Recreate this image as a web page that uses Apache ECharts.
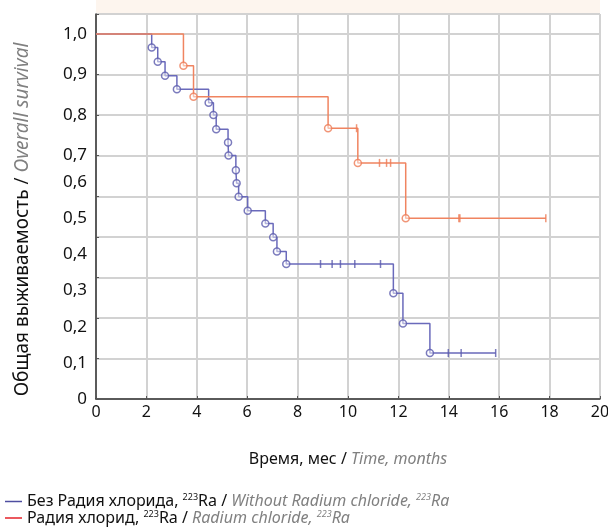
<!DOCTYPE html>
<html>
<head>
<meta charset="utf-8">
<script src="https://cdn.jsdelivr.net/npm/echarts@6/dist/echarts.min.js"></script>
<style>
  html, body { margin: 0; padding: 0; background: #fff; }
  #chart { width: 608px; height: 532px; }
</style>
</head>
<body>
<div id="chart"></div>
<script>
// Без Радия хлорида: моменты событий (мес) и выживаемость после них
var blueEventT = [2.21, 2.45, 2.74, 3.21, 4.47, 4.66, 4.77, 5.24, 5.26, 5.55, 5.58, 5.66, 6.02, 6.72, 7.03, 7.18, 7.55, 11.80, 12.18, 13.25];
var blueEventS = [0.963, 0.924, 0.886, 0.849, 0.812, 0.778, 0.739, 0.703, 0.667, 0.627, 0.591, 0.554, 0.516, 0.481, 0.443, 0.404, 0.370, 0.290, 0.207, 0.126];
var blueCensorT = [8.91, 9.37, 9.70, 10.27, 11.29, 13.98, 14.49, 15.86];
var blueCensorS = [0.370, 0.370, 0.370, 0.370, 0.370, 0.126, 0.126, 0.126];

// Радия хлорид
var redEventT = [3.47, 3.87, 9.21, 10.39, 12.29];
var redEventS = [0.913, 0.828, 0.742, 0.647, 0.495];
var redCensorT = [10.34, 11.25, 11.53, 11.69, 14.40, 14.44, 17.85];
var redCensorS = [0.742, 0.647, 0.647, 0.647, 0.495, 0.495, 0.495];

// подписи оси Y (стоят не строго по сетке, как на оригинале)
var yTickPos = [0, 0.099, 0.197, 0.299, 0.397, 0.496, 0.595, 0.667, 0.778, 0.889, 1.0];
var yTickLabels = ['0', '0,1', '0,2', '0,3', '0,4', '0,5', '0,6', '0,7', '0,8', '0,9', '1,0'];

var blueName = 'Без Радия хлорида, 223Ra / Without Radium chloride, 223Ra';
var redName = 'Радия хлорид, 223Ra / Radium chloride, 223Ra';
var legendRich = {};
legendRich[blueName] = '{a|Без Радия хлорида, }{s|223}{a|Ra / }{b|Without Radium chloride, }{t|223}{b|Ra}';
legendRich[redName] = '{a|Радия хлорид, }{s|223}{a|Ra / }{b|Radium chloride, }{t|223}{b|Ra}';

var FONT = 'Noto Sans';

function stepData(ts, ss, endT) {
  var out = [[0, 1]];
  for (var i = 0; i < ts.length; i++) out.push([ts[i], ss[i]]);
  out.push([endT, ss[ss.length - 1]]);
  return out;
}
function pairs(ts, ss) {
  return ts.map(function (t, i) { return [t, ss[i]]; });
}

var blueLine = '#6a6abb', blueMark = '#5a5aac';
var redLine = '#f08460', redMark = '#ee7a55';
var gridColor = '#d2d2d2';

var chart = echarts.init(document.getElementById('chart'));

var option = {
  backgroundColor: '#ffffff',
  animation: false,
  graphic: [{
    type: 'rect', left: 96, top: 0, z: -10,
    shape: { width: 504, height: 13 },
    style: { fill: '#fdf5ee' }
  }],
  grid: {
    left: 96, right: 8, top: 14, bottom: 133,
    outerBoundsMode: 'none',
    show: true, borderColor: '#777', borderWidth: 1, backgroundColor: 'transparent'
  },
  legend: {
    orient: 'vertical', left: 0, top: 488, itemGap: 0,
    icon: 'rect', itemWidth: 17, itemHeight: 1.5,
    selectedMode: false,
    data: [
      { name: blueName, itemStyle: { color: '#4e4ea0' } },
      { name: redName, itemStyle: { color: '#e5222a' } }
    ],
    formatter: function (n) { return legendRich[n]; },
    textStyle: {
      rich: {
        a: { fontFamily: FONT, fontSize: 16, color: '#111', lineHeight: 17 },
        b: { fontFamily: FONT, fontSize: 16, color: '#808080', fontStyle: 'italic', lineHeight: 17 },
        s: { fontFamily: FONT, fontSize: 9, color: '#111', lineHeight: 9, verticalAlign: 'top' },
        t: { fontFamily: FONT, fontSize: 9, color: '#808080', fontStyle: 'italic', lineHeight: 9, verticalAlign: 'top' }
      }
    }
  },
  xAxis: {
    type: 'value', min: 0, max: 20, interval: 2,
    name: '{a|Время, мес / }{b|Time, months}',
    nameLocation: 'middle', nameGap: 52,
    nameTextStyle: {
      rich: {
        a: { fontFamily: FONT, fontSize: 16, color: '#111' },
        b: { fontFamily: FONT, fontSize: 16, color: '#808080', fontStyle: 'italic' }
      }
    },
    axisLine: { lineStyle: { color: '#333', width: 1.5 } },
    axisTick: { inside: true, length: 3, lineStyle: { color: '#555' } },
    axisLabel: { fontFamily: FONT, fontSize: 16, color: '#111', margin: 5 },
    splitLine: { show: true, lineStyle: { color: gridColor, width: 2 } }
  },
  yAxis: {
    type: 'value', min: 0, max: 1.055, interval: 1 / 9,
    name: '{a|Общая выживаемость / }{b|Overall survival}',
    nameLocation: 'middle', nameGap: 64,
    nameTextStyle: {
      padding: [0, 26, 0, 0],
      rich: {
        a: { fontFamily: FONT, fontSize: 19, color: '#111' },
        b: { fontFamily: FONT, fontSize: 19, color: '#808080', fontStyle: 'italic' }
      }
    },
    axisLine: { show: true, lineStyle: { color: '#333', width: 1.5 } },
    axisTick: { show: true, inside: true, length: 3, lineStyle: { color: '#555' } },
    axisLabel: {
      fontFamily: FONT, fontSize: 17, color: '#111', margin: 9,
      customValues: yTickPos,
      formatter: function (v) {
        for (var i = 0; i < yTickPos.length; i++) {
          if (Math.abs(yTickPos[i] - v) < 1e-6) return yTickLabels[i];
        }
        return '';
      }
    },
    splitLine: { show: true, lineStyle: { color: gridColor, width: 2 } }
  },
  series: [
    {
      name: blueName, type: 'line', step: 'end', showSymbol: false,
      data: stepData(blueEventT, blueEventS, blueCensorT[blueCensorT.length - 1]),
      lineStyle: { color: blueLine, width: 1.5 }, itemStyle: { color: blueLine }, z: 2
    },
    {
      name: 'blue-events', type: 'scatter', symbol: 'circle', symbolSize: 7,
      data: pairs(blueEventT, blueEventS),
      itemStyle: { color: 'rgba(255,255,255,0.6)', borderColor: blueMark, borderWidth: 1.5 }, z: 3
    },
    {
      name: 'blue-censored', type: 'scatter', symbol: 'rect', symbolSize: [1.5, 8],
      data: pairs(blueCensorT, blueCensorS),
      itemStyle: { color: blueMark }, z: 3
    },
    {
      name: redName, type: 'line', step: 'end', showSymbol: false,
      data: stepData(redEventT, redEventS, redCensorT[redCensorT.length - 1]),
      lineStyle: { color: redLine, width: 1.5 }, itemStyle: { color: redLine }, z: 4
    },
    {
      name: 'red-events', type: 'scatter', symbol: 'circle', symbolSize: 7,
      data: pairs(redEventT, redEventS),
      itemStyle: { color: 'rgba(255,255,255,0.6)', borderColor: redMark, borderWidth: 1.5 }, z: 5
    },
    {
      name: 'red-censored', type: 'scatter', symbol: 'rect', symbolSize: [1.5, 8],
      data: pairs(redCensorT, redCensorS),
      itemStyle: { color: redMark }, z: 5
    }
  ]
};

chart.setOption(option);
</script>
</body>
</html>
